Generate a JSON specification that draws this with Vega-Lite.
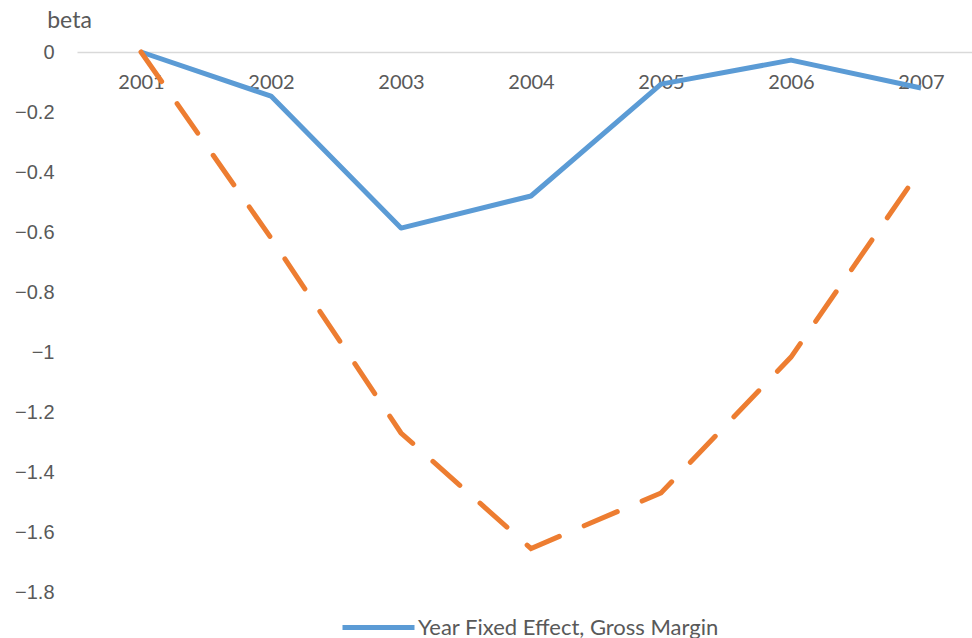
{
  "$schema": "https://vega.github.io/schema/vega-lite/v6.json",
  "width": 895,
  "height": 540,
  "autosize": {"type": "none"},
  "padding": {"left": 77, "top": 52, "right": 0, "bottom": 46},
  "background": "white",
  "config": {"view": {"stroke": null}, "font": "Lato"},
  "data": {
    "values": [
      {"year": "2001", "series": "Year Fixed Effect, Gross Margin", "value": 0},
      {"year": "2002", "series": "Year Fixed Effect, Gross Margin", "value": -0.147},
      {"year": "2003", "series": "Year Fixed Effect, Gross Margin", "value": -0.587},
      {"year": "2004", "series": "Year Fixed Effect, Gross Margin", "value": -0.48},
      {"year": "2005", "series": "Year Fixed Effect, Gross Margin", "value": -0.107},
      {"year": "2006", "series": "Year Fixed Effect, Gross Margin", "value": -0.027},
      {"year": "2007", "series": "Year Fixed Effect, Gross Margin", "value": -0.12},
      {"year": "2001", "series": "Series 2", "value": 0},
      {"year": "2002", "series": "Series 2", "value": -0.62},
      {"year": "2003", "series": "Series 2", "value": -1.27},
      {"year": "2004", "series": "Series 2", "value": -1.655},
      {"year": "2005", "series": "Series 2", "value": -1.47},
      {"year": "2006", "series": "Series 2", "value": -1.017},
      {"year": "2007", "series": "Series 2", "value": -0.39}
    ]
  },
  "encoding": {
    "x": {
      "field": "year",
      "type": "ordinal",
      "scale": {"type": "point", "padding": 0.4423, "align": 0.5565},
      "axis": {
        "orient": "top",
        "title": null,
        "domain": false,
        "ticks": false,
        "tickSize": 0,
        "grid": false,
        "labelPadding": -30,
        "labelBaseline": "middle",
        "labelAngle": 0,
        "labelFont": "Lato",
        "labelFontSize": 20,
        "labelColor": "#595959"
      }
    },
    "y": {
      "field": "value",
      "type": "quantitative",
      "scale": {"domain": [-1.8, 0], "nice": false, "zero": false},
      "axis": {
        "values": [0, -0.2, -0.4, -0.6, -0.8, -1, -1.2, -1.4, -1.6, -1.8],
        "format": "~g",
        "title": "beta",
        "titleAngle": 0,
        "titleX": -8,
        "titleY": -32,
        "titleAlign": "center",
        "titleBaseline": "middle",
        "titleFont": "Lato",
        "titleFontSize": 23,
        "titleFontWeight": "normal",
        "titleColor": "#595959",
        "domain": false,
        "ticks": false,
        "labelPadding": 23,
        "labelFont": "Liberation Sans",
        "labelFontSize": 20,
        "labelColor": "#595959",
        "grid": true,
        "gridWidth": 1.5,
        "gridColor": {"condition": {"test": "datum.value === 0", "value": "#D9D9D9"}, "value": "transparent"}
      }
    }
  },
  "layer": [
    {
      "transform": [{"filter": "datum.series === 'Year Fixed Effect, Gross Margin'"}],
      "mark": {"type": "line", "strokeWidth": 5, "strokeJoin": "round"},
      "encoding": {
        "color": {
          "field": "series",
          "type": "nominal",
          "scale": {"range": ["#5B9BD5"]},
          "legend": {
            "orient": "none",
            "legendX": 263,
            "legendY": 537,
            "title": null,
            "symbolType": "stroke",
            "symbolSize": 5184,
            "symbolStrokeWidth": 5,
            "labelFont": "Lato",
            "labelFontSize": 22,
            "labelColor": "#595959",
            "labelOffset": 1,
            "labelLimit": 0,
            "padding": 0
          }
        }
      }
    },
    {
      "transform": [{"filter": "datum.series === 'Series 2'"}],
      "mark": {"type": "line", "color": "#ED7D31", "strokeWidth": 5, "strokeDash": [36, 27], "strokeCap": "round"},
      "encoding": {}
    }
  ]
}
